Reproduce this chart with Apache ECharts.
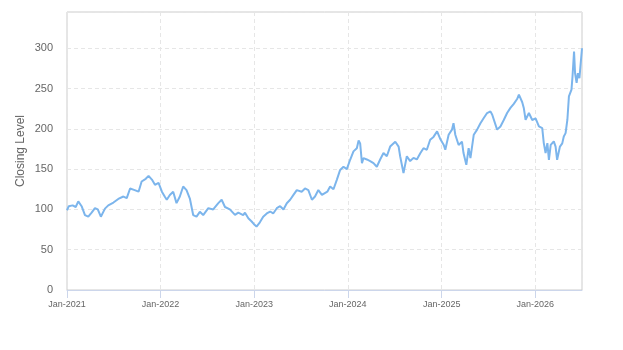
<!DOCTYPE html>
<html>
<head>
<meta charset="utf-8">
<script src="https://cdn.jsdelivr.net/npm/echarts@6/dist/echarts.min.js"></script>
<style>
  html, body { margin: 0; padding: 0; background: #fff; }
  #chart { width: 623px; height: 350px; }
</style>
</head>
<body>
<div id="chart"></div>
<script>
// closing level, every two weeks
const dates = [
  "2021-01-01", "2021-01-08", "2021-01-15", "2021-01-23", "2021-02-04", "2021-02-14", "2021-02-27", "2021-03-12",
  "2021-03-25", "2021-04-07", "2021-04-20", "2021-05-01", "2021-05-13", "2021-05-29", "2021-06-11", "2021-07-01",
  "2021-07-20", "2021-08-09", "2021-08-22", "2021-09-04", "2021-09-22", "2021-10-07", "2021-10-19", "2021-11-04",
  "2021-11-15", "2021-11-20", "2021-11-28", "2021-12-10", "2021-12-24", "2021-12-29",
  "2022-01-06", "2022-01-17", "2022-01-25", "2022-02-06", "2022-02-19", "2022-03-04", "2022-03-17", "2022-03-30",
  "2022-04-12", "2022-04-25", "2022-05-08", "2022-05-21", "2022-06-03", "2022-06-16", "2022-07-06", "2022-07-25",
  "2022-08-14", "2022-08-27", "2022-09-09", "2022-09-28", "2022-10-18", "2022-10-31", "2022-11-19", "2022-11-26",
  "2022-12-09", "2022-12-22", "2022-12-30",
  "2023-01-10", "2023-01-23", "2023-02-05", "2023-02-19", "2023-03-04", "2023-03-16", "2023-03-30", "2023-04-12",
  "2023-04-25", "2023-05-08", "2023-05-21", "2023-06-03", "2023-06-16", "2023-06-22", "2023-07-05", "2023-07-18",
  "2023-07-31", "2023-08-14", "2023-08-26", "2023-09-08", "2023-09-22", "2023-09-28", "2023-10-13", "2023-10-24",
  "2023-11-06", "2023-11-19", "2023-12-02", "2023-12-15", "2023-12-28",
  "2024-01-10", "2024-01-23", "2024-02-05", "2024-02-12", "2024-02-18", "2024-02-25", "2024-03-02", "2024-03-15",
  "2024-03-28", "2024-04-10", "2024-04-23", "2024-05-06", "2024-05-19", "2024-06-01", "2024-06-14", "2024-07-04",
  "2024-07-17", "2024-07-23", "2024-08-05", "2024-08-18", "2024-08-31", "2024-09-13", "2024-09-26", "2024-10-10",
  "2024-10-22", "2024-11-04", "2024-11-17", "2024-11-30", "2024-12-14", "2024-12-27",
  "2025-01-09", "2025-01-15", "2025-01-28", "2025-02-10", "2025-02-16", "2025-02-23", "2025-03-08", "2025-03-21",
  "2025-03-27", "2025-04-07", "2025-04-16", "2025-04-23", "2025-05-06", "2025-05-19", "2025-06-01", "2025-06-14",
  "2025-06-27", "2025-07-10", "2025-07-17", "2025-07-23", "2025-08-05", "2025-08-18", "2025-08-31", "2025-09-13",
  "2025-09-26", "2025-10-09", "2025-10-22", "2025-10-29", "2025-11-11", "2025-11-17", "2025-11-24", "2025-12-07",
  "2025-12-20",
  "2026-01-02", "2026-01-15", "2026-01-28", "2026-02-03", "2026-02-10", "2026-02-17", "2026-02-23", "2026-03-02",
  "2026-03-14", "2026-03-21", "2026-03-27", "2026-04-07", "2026-04-16", "2026-04-22", "2026-04-29", "2026-05-06",
  "2026-05-12", "2026-05-22", "2026-05-26", "2026-06-01", "2026-06-05", "2026-06-11", "2026-06-16", "2026-06-22",
  "2026-06-27", "2026-07-02"
];
const closes = [
  99, 104, 102, 105, 103, 110, 104, 93,
  91, 96, 101.6, 100, 91, 101, 105, 108.5,
  113, 116, 114, 126, 124, 122, 134.6, 138,
  141.7, 141, 137, 130.5, 133, 132.6,
  122, 116, 112, 118, 122, 107.8, 116, 128.4,
  124, 113.5, 93, 91, 97, 93, 101.6, 100,
  107.8, 112, 103, 100, 93.2, 96, 93, 96,
  89, 85, 82,
  78.7, 84, 91, 95, 97.4, 95, 101.5, 104,
  100, 107.7, 112, 118, 124, 126, 122, 126,
  124, 112, 116, 124, 118, 116, 122, 128.4,
  125, 136.7, 149, 153, 150,
  161.6, 172, 176, 185.6, 182, 157.5, 163.7, 162,
  160, 157.5, 153, 162, 170, 166, 178, 184,
  178, 166, 145, 166, 160, 164, 162, 170,
  176, 174, 186.5, 190, 196.8, 187,
  180, 174, 192.7, 199, 207, 192.7, 180, 184,
  170, 155.4, 176, 163.7, 192.7, 199, 207, 213.4,
  219.6, 221.7, 217.5, 215.4, 199, 203, 211, 219.6,
  226, 231, 237, 242.4, 233, 226, 211.3, 219.6,
  211,
  213, 203, 201, 182.3, 170, 182.3, 161.6, 180,
  184.4, 178, 161.6, 178, 182, 190.6, 194.7, 211.3,
  240.3, 248.6, 265, 296, 269, 257, 269, 263,
  265, 300
];
const yName = "Closing Level";

const chart = echarts.init(document.getElementById("chart"));
chart.setOption({
  animation: false,
  backgroundColor: "#fff",
  textStyle: { fontFamily: "Liberation Sans, Arial, sans-serif" },
  grid: { left: 67, right: 41, top: 12, bottom: 60, show: true, borderColor: "#cccccc", borderWidth: 1 },
  xAxis: {
    type: "time",
    min: "2021-01-01",
    max: "2026-07-02",
    minInterval: 365 * 24 * 3600 * 1000,
    axisLine: { lineStyle: { color: "#ccd6eb" } },
    axisTick: { show: true, length: 8, lineStyle: { color: "#ccd6eb" } },
    axisLabel: {
      color: "#666",
      fontSize: 9,
      margin: 10,
      formatter: (v) => "Jan-" + new Date(v).getFullYear()
    },
    splitLine: { show: true, lineStyle: { color: "#e6e6e6", type: [4, 3] } }
  },
  yAxis: {
    type: "value",
    min: 0,
    max: 345,
    interval: 50,
    name: yName,
    nameLocation: "middle",
    nameGap: 40,
    nameMoveOverlap: false,
    nameTextStyle: { color: "#666", fontSize: 12 },
    axisLine: { show: false },
    axisTick: { show: false },
    axisLabel: { color: "#666", fontSize: 11, margin: 14, showMaxLabel: false },
    splitLine: { lineStyle: { color: "#e6e6e6", type: [4, 3] } }
  },
  series: [{
    type: "line",
    data: dates.map((d, i) => [d, closes[i]]),
    showSymbol: false,
    lineStyle: { color: "#7cb5ec", width: 2 },
    itemStyle: { color: "#7cb5ec" }
  }]
});
</script>
</body>
</html>
